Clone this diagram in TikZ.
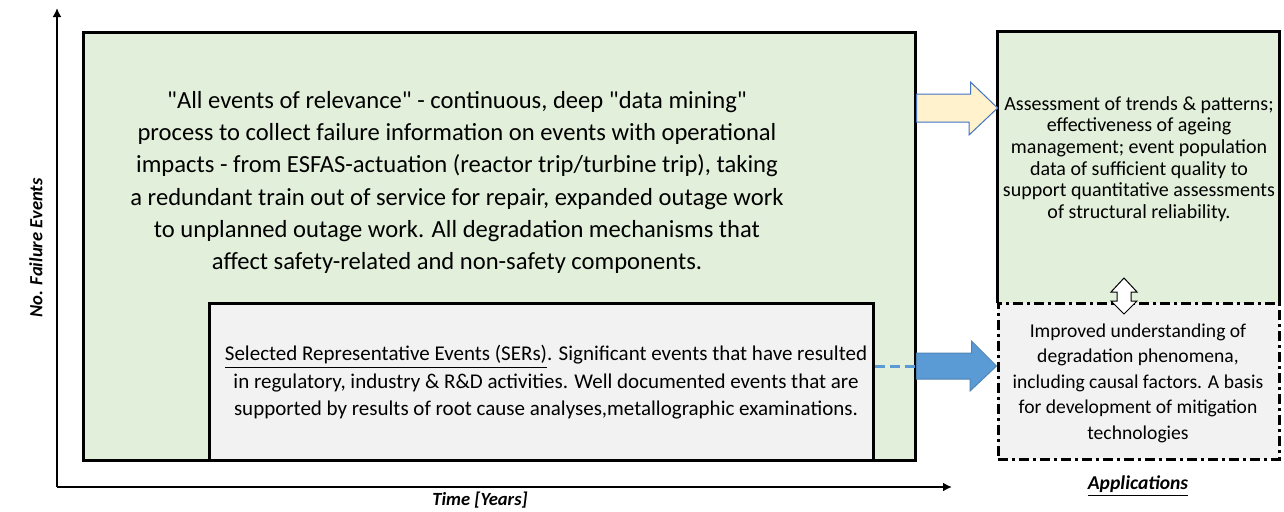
\documentclass[tikz,border=0pt]{standalone}
\usepackage{fontspec}
\setmainfont{Carlito}
\usepackage{tikz}
\usetikzlibrary{arrows.meta}

\definecolor{allgreen}{RGB}{226,239,218}
\definecolor{sergray}{RGB}{242,242,242}
\definecolor{trendyellow}{RGB}{255,242,204}
\definecolor{trendedge}{RGB}{68,114,196}
\definecolor{serblue}{RGB}{91,155,213}

\begin{document}
\begin{tikzpicture}[x=0.5pt,y=-0.5pt,
    box/.style={draw=black, line width=1.5pt, inner sep=0pt},
    axis/.style={line width=1pt, -{Latex[length=4.5pt,width=4.5pt]}},
    axislabel/.style={font=\fontsize{9.3}{11}\selectfont\bfseries\itshape, inner sep=0pt},
    boxtext/.style={align=center, inner sep=0pt}]

    \useasboundingbox (0,0) rectangle (1284,511);

    % Draw the axes of the diagram
    \coordinate (origin) at (57,487);
    \draw[axis] (origin) -- (57,8);
    \draw[axis] (origin) -- (952,487);

    % Label the axes
    \node[axislabel, rotate=90] (ylabel) at (36,248) {No. Failure Events};
    \node[axislabel] (xlabel) at (480,500) {Time [Years]};
    \node[axislabel, font=\fontsize{9.8}{11}\selectfont\bfseries\itshape] (applabel) at (1138,486) {\underline{Applications}};

    % Draw the box of all events and the box of selected events
    \node[box, fill=allgreen, minimum width=416pt, minimum height=214pt] (all) at (499,246) {};
    \node[box, fill=sergray, minimum width=332pt, minimum height=78.5pt] (ser) at (541,381.5) {};

    % Draw the boxes of the applications
    \node[inner sep=0pt, fill=allgreen, minimum width=140.5pt, minimum height=135.5pt] (trend) at (1138.5,167.5) {};
    \draw[line width=1.5pt] (trend.south west) -- (trend.north west) -- (trend.north east) -- (trend.south east);
    \node[box, fill=sergray, dash pattern=on 5pt off 2pt on 1.5pt off 2pt, minimum width=140.5pt, minimum height=78pt] (mech) at (1138.5,381) {};

    % Texts of the boxes
    \node[boxtext, font=\fontsize{12.3}{16.1}\selectfont] (alltext) at (457,182.5) {\textquotedbl All events of relevance\textquotedbl{} - continuous, deep \textquotedbl data mining\textquotedbl\\
        process to collect failure information on events with operational\\
        impacts - from ESFAS-actuation (reactor trip/turbine trip), taking\\
        a redundant train out of service for repair, expanded outage work\\
        to unplanned outage work. All degradation mechanisms that\\
        affect safety-related and non-safety components.};
    \node[boxtext, font=\fontsize{10.5}{13.75}\selectfont] (sertext) at (546,382.5) {\underline{Selected Representative Events (SERs)}. Significant events that have resulted\\
        in regulatory, industry \& R\&D activities. Well documented events that are\\
        supported by results of root cause analyses,metallographic examinations.};
    \node[boxtext, font=\fontsize{10}{10.8}\selectfont] (trendtext) at (1139,159) {Assessment of trends \& patterns;\\
        effectiveness of ageing\\
        management; event population\\
        data of sufficient quality to\\
        support quantitative assessments\\
        of structural reliability.};
    \node[boxtext, font=\fontsize{9.8}{12.75}\selectfont] (mechtext) at (1138,383) {Improved understanding of\\
        degradation phenomena,\\
        including causal factors. A basis\\
        for development of mitigation\\
        technologies};

    % Block arrows from the event boxes to the applications
    \draw[trendedge, fill=trendyellow, line width=0.5pt] (all.east |- 0,94) -- ++(54,0) -- ++(0,-12)
        -- (trend.west |- 0,108) -- (969,135) -- ++(0,-13) -- (all.east |- 0,122) -- cycle;
    \draw[serblue, line width=1.5pt, dash pattern=on 5pt off 2.5pt] (ser.east |- 0,366) -- (all.east |- 0,366);
    \draw[serblue!85!black, fill=serblue, line width=0.5pt] (all.east |- 0,353) -- ++(55,0) -- ++(0,-12)
        -- (mech.west |- 0,366) -- (970,391) -- ++(0,-12) -- (all.east |- 0,379) -- cycle;

    % Double arrow between the applications
    \draw[fill=white, line width=0.5pt] (1124,278) -- (1137,292) -- (1131,292) -- (1131,301) -- (1137,301)
        -- (1124,314) -- (1111,301) -- (1117,301) -- (1117,292) -- (1111,292) -- cycle;

\end{tikzpicture}
\end{document}
